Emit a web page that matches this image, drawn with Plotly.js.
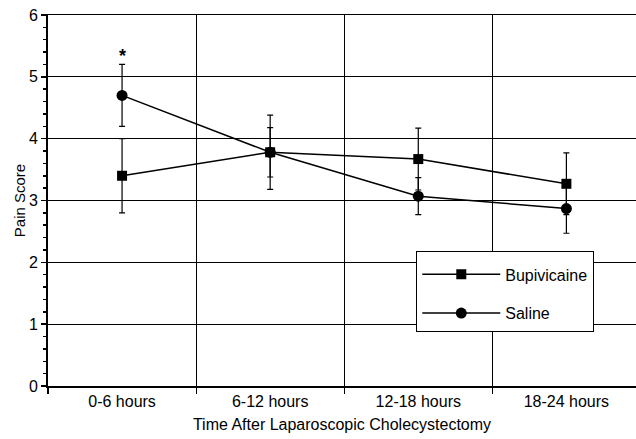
<!DOCTYPE html>
<html><head><meta charset="utf-8">
<script src="https://cdn.plot.ly/plotly-3.0.1.min.js"></script>
<style>html,body{margin:0;padding:0;background:#fff}#chart{width:636px;height:439px}</style>
</head><body><div id="chart"></div>
<script>
const categories = ["0-6 hours", "6-12 hours", "12-18 hours", "18-24 hours"];
const bupivicaine = [3.4, 3.78, 3.67, 3.27];
const bupivicaineErr = [0.6, 0.6, 0.5, 0.5];
const saline = [4.7, 3.78, 3.07, 2.87];
const salineErr = [0.5, 0.4, 0.3, 0.4];
const starLabel = {category: "0-6 hours", y: 5.33, text: "*"};
const fontFam = "Liberation Sans, Arial, sans-serif";

const traces = [
  {x: categories, y: bupivicaine, name: "Bupivicaine", type: "scatter", mode: "lines+markers",
   line: {color: "#000", width: 1.5}, marker: {symbol: "square", size: 10, color: "#000"},
   error_y: {type: "data", array: bupivicaineErr, visible: true, color: "#000", thickness: 1.2, width: 3},
   legendgroup: "a"},
  {x: categories, y: saline, name: "Saline", type: "scatter", mode: "lines+markers",
   line: {color: "#000", width: 1.5}, marker: {symbol: "circle", size: 11, color: "#000"},
   error_y: {type: "data", array: salineErr, visible: true, color: "#000", thickness: 1.2, width: 3},
   legendgroup: "b"}
];

const layout = {
  width: 636, height: 439,
  margin: {l: 48, r: 0, t: 15, b: 53},
  paper_bgcolor: "#fff", plot_bgcolor: "#fff",
  font: {family: fontFam, size: 15, color: "#000"},
  showlegend: true,
  legend: {x: 0.626, y: 0.364, xanchor: "left", yanchor: "top",
    bgcolor: "#fff", bordercolor: "#000", borderwidth: 1.2,
    font: {family: fontFam, size: 16, color: "#000"},
    title: {text: " ", font: {size: 4}},
    traceorder: "grouped", tracegroupgap: 15, itemwidth: 78},
  xaxis: {type: "category", tickson: "boundaries", range: [-0.5, 3.47],
    ticks: "outside", ticklen: 6, tickcolor: "#000", tickwidth: 1.2,
    showgrid: true, gridcolor: "#000", gridwidth: 1,
    showline: true, linecolor: "#000", linewidth: 1.5, mirror: true,
    tickfont: {size: 16}, zeroline: false,
    title: {text: "Time After Laparoscopic Cholecystectomy", font: {size: 16}, standoff: 10}},
  yaxis: {range: [0, 6], dtick: 1, ticks: "outside", ticklen: 5, tickcolor: "#000", tickwidth: 1.5,
    showgrid: true, gridcolor: "#000", gridwidth: 1,
    showline: true, linecolor: "#000", linewidth: 2, zeroline: false,
    minor: {dtick: 0.2, ticks: "outside", ticklen: 3, tickcolor: "#000", showgrid: false},
    tickfont: {size: 16},
    title: {text: "Pain Score", font: {size: 15}, standoff: 0}},
  annotations: [{x: starLabel.category, y: starLabel.y, text: "<b>" + starLabel.text + "</b>", showarrow: false,
    font: {size: 18, color: "#000"}, xref: "x", yref: "y"}]
};
Plotly.newPlot("chart", traces, layout, {displayModeBar: false, staticPlot: true});
</script></body></html>
